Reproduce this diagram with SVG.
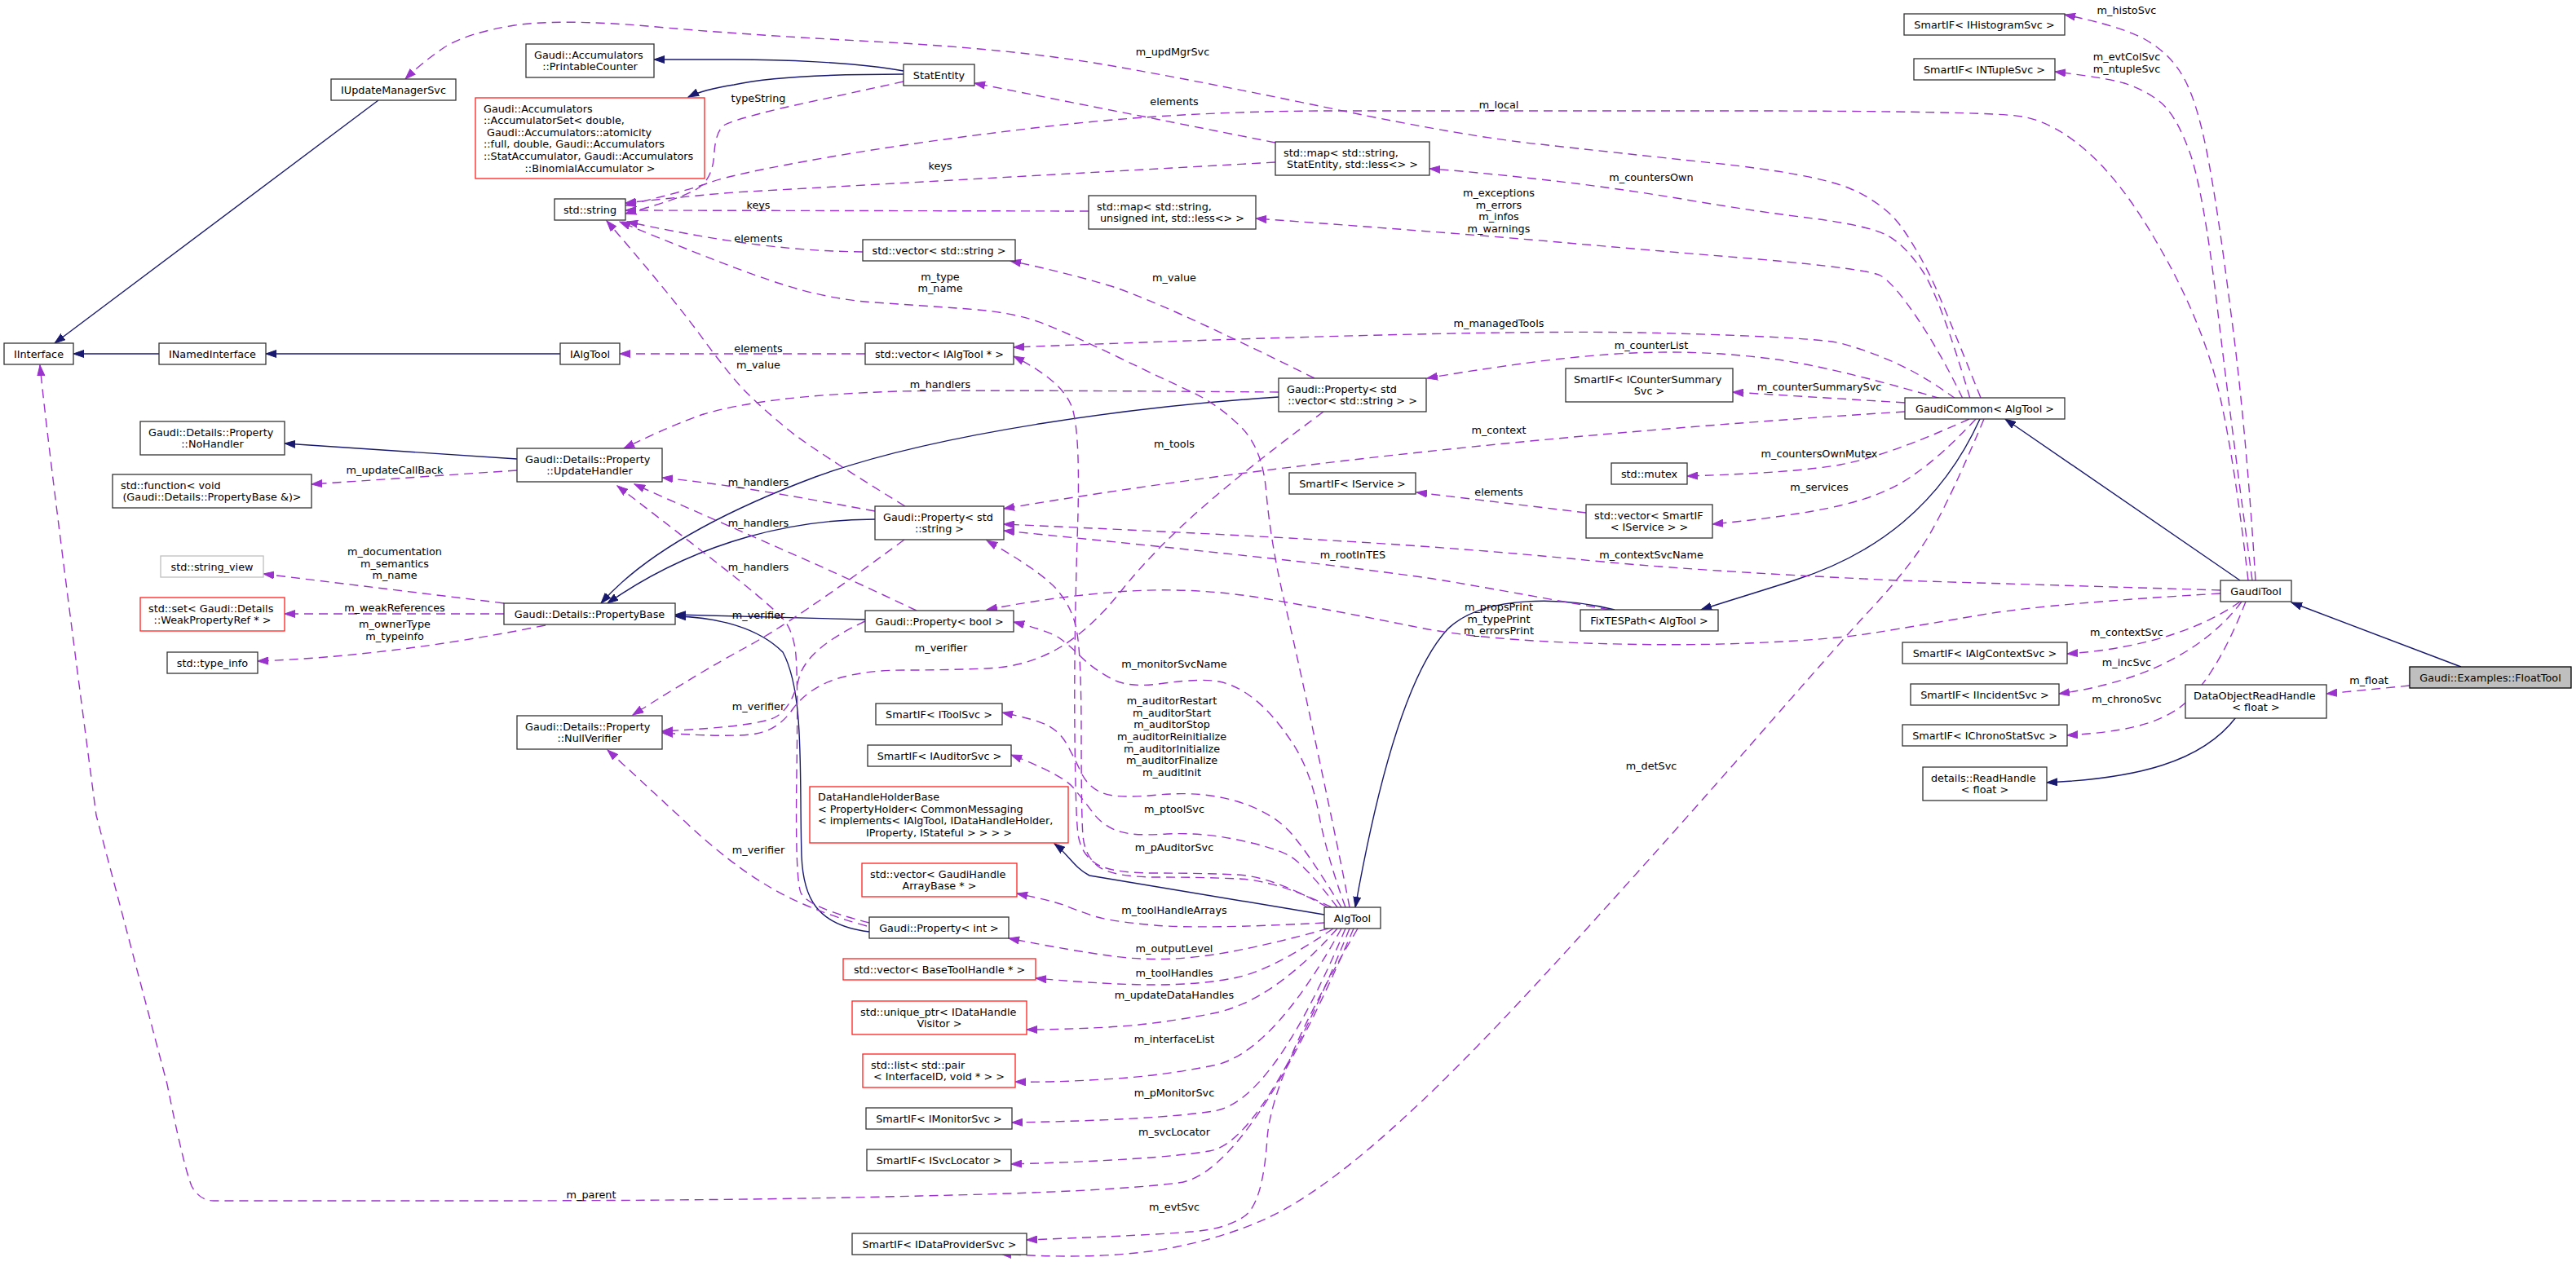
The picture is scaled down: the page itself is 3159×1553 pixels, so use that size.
<svg xmlns="http://www.w3.org/2000/svg" width="3159" height="1553" viewBox="0 0 3159 1553">
<style>
text{font-family:"DejaVu Sans","Liberation Sans",sans-serif;font-size:12.8px;fill:#000}
.n rect{fill:#fff;stroke:#333;stroke-width:1.3}
.r rect{stroke:#ff2020}
.g rect{stroke:#bfbfbf}
.f rect{fill:#bfbfbf;stroke:#000}
.c{text-anchor:middle}
.e{fill:none;stroke:#9a32cd;stroke-width:1.4;stroke-dasharray:11,7;marker-end:url(#pa)}
.i{fill:none;stroke:#191970;stroke-width:1.4;marker-end:url(#na)}
.l text{text-anchor:middle}
</style>
<defs>
<marker id="pa" markerUnits="userSpaceOnUse" viewBox="0 0 14 10" markerWidth="14" markerHeight="10" refX="13" refY="5" orient="auto"><path d="M0,0.5 L13,5 L0,9.5 z" fill="#9a32cd" stroke="#9a32cd" stroke-width="1"/></marker>
<marker id="na" markerUnits="userSpaceOnUse" viewBox="0 0 14 10" markerWidth="14" markerHeight="10" refX="13" refY="5" orient="auto"><path d="M0,0.5 L13,5 L0,9.5 z" fill="#191970" stroke="#191970" stroke-width="1"/></marker>
</defs>
<rect x="0" y="0" width="3159" height="1553" fill="#fff"/>
<g id="connectors">
<path class="i" d="M464,123 L67,421"/>
<path class="i" d="M195,434 L90,434"/>
<path class="i" d="M687,434 L326,434"/>
<path class="i" d="M1108,87 C1050,76 950,73 900,73 L802,73"/>
<path class="i" d="M1108,91 C1040,91 950,93 900,104 C875,108 858,112 844,119"/>
<path class="i" d="M634,563 L349,544"/>
<path class="i" d="M1568,487 C1400,498 1150,530 1000,585 C880,630 790,680 737,740"/>
<path class="i" d="M1073,637 C980,637 860,660 745,740"/>
<path class="i" d="M1061,760 L828,754"/>
<path class="i" d="M1066,1143 C1000,1135 985,1100 983,1050 C980,950 987,850 960,800 C930,770 880,757 828,756"/>
<path class="i" d="M1624,1122 L1336,1074 C1318,1065 1310,1048 1293,1035"/>
<path class="i" d="M1980,748 C1920,733 1820,728 1775,772 C1740,810 1700,900 1662,1113"/>
<path class="i" d="M2428,514 C2380,620 2300,680 2200,712 C2150,728 2110,740 2086,748"/>
<path class="i" d="M2747,712 L2459,514"/>
<path class="i" d="M3018,818 L2810,739"/>
<path class="i" d="M2742,880 C2700,935 2620,955 2510,960"/>

<path class="e" d="M634,577 L382,594"/>
<path class="e" d="M618,740 L323,704"/>
<path class="e" d="M618,753 L349,753"/>
<path class="e" d="M669,767 Q480,805 316,811"/>

<path class="e" d="M2429,488 Q2394,400 2376,358 Q2358,317 2335,283 Q2313,250 2268,231 Q2224,213 2101,200 Q1979,187 1889,177 Q1800,168 1637,134 Q1474,100 1359,80 Q1244,60 1072,51 Q900,42 794,32 Q689,23 631,31 Q574,40 545,58 Q517,77 497,97"/>
<path class="e" d="M2416,489 Q2380,367 2358,333 Q2336,300 2313,288 Q2291,277 2224,268 Q2157,260 2068,245 Q1979,230 1889,220 Q1800,210 1753,207"/>
<path class="e" d="M2407,489 Q2380,433 2351,390 Q2322,347 2306,338 Q2291,330 2157,318 Q2023,307 1911,297 Q1800,287 1540,268"/>
<path class="e" d="M2398,489 Q2358,460 2324,445 Q2291,430 2257,421 Q2224,413 2012,408 Q1800,404 1243,426"/>
<path class="e" d="M2380,489 Q2246,450 2179,441 Q2112,432 2045,432 Q1979,432 1889,443 Q1800,455 1750,464"/>
<path class="e" d="M2336,494 L2125,481"/>
<path class="e" d="M2336,505 Q1700,545 1231,624"/>
<path class="e" d="M2415,514 Q2313,560 2257,570 Q2202,580 2069,584"/>
<path class="e" d="M2423,514 Q2380,560 2346,583 Q2313,607 2257,620 Q2202,633 2100,643"/>
<path class="e" d="M1945,629 L1737,604"/>
<path class="e" d="M2433,514 Q2380,640 2353,676 Q2327,713 2286,756 Q2246,800 2150,910 Q2054,1020 1927,1160 Q1800,1300 1723,1370 Q1646,1441 1588,1476 Q1531,1511 1445,1529 Q1359,1547 1227,1538"/>
<path class="e" d="M2723,724 L2327,712 Q2068,700 1934,686 Q1800,673 1650,664 Q1500,655 1231,643"/>
<path class="e" d="M2723,728 Q2519,740 2437,753 Q2355,767 2300,776 Q2246,785 2143,789 Q2041,793 1920,788 Q1800,783 1726,767 Q1652,752 1562,736 Q1473,720 1387,725 Q1302,730 1210,748"/>
<path class="e" d="M1974,748 Q1912,737 1856,727 Q1800,717 1770,712 Q1741,707 1620,692 Q1500,678 1231,651"/>
<path class="e" d="M2766,712 Q2754,520 2736,385 Q2719,250 2706,185 Q2693,120 2676,92 Q2660,65 2630,48 Q2600,32 2532,18"/>
<path class="e" d="M2762,712 Q2736,520 2719,376 Q2702,233 2685,186 Q2668,140 2649,125 Q2630,110 2605,102 Q2580,95 2520,88"/>
<path class="e" d="M2757,712 Q2735,520 2712,447 Q2690,375 2647,301 Q2605,227 2562,188 Q2520,150 2480,143 Q2440,136 2120,136 Q1800,136 1620,136 Q1440,137 1285,155 Q1130,173 1015,193 Q900,213 870,224 Q840,235 767,252"/>
<path class="e" d="M2747,738 C2710,765 2640,795 2535,802"/>
<path class="e" d="M2749,738 C2710,790 2640,835 2525,851"/>
<path class="e" d="M2754,738 C2730,800 2700,850 2670,870 C2640,890 2600,898 2535,902"/>
<path class="e" d="M2955,841 L2853,851"/>
<path class="e" d="M1564,175 L1195,102"/>
<path class="e" d="M1564,199 L900,236 Q850,240 767,249"/>
<path class="e" d="M1335,259 L767,258"/>
<path class="e" d="M1108,100 L957,133 Q900,147 889,153 Q878,160 876,186 Q875,213 862,226 Q850,240 767,262"/>
<path class="e" d="M1058,309 C980,308 900,300 769,272"/>
<path class="e" d="M1655,1113 Q1643,1050 1616,923 Q1589,796 1573,729 Q1558,662 1553,606 Q1549,551 1522,524 Q1495,497 1462,481 Q1429,466 1373,439 Q1317,412 1280,397 Q1244,383 1187,379 Q1130,375 1072,371 Q1015,367 957,348 Q900,330 760,272"/>
<path class="e" d="M1110,621 Q994,550 964,525 Q934,500 917,483 Q900,467 863,417 Q827,367 744,271"/>
<path class="e" d="M1612,464 Q1417,367 1359,350 Q1302,333 1239,320"/>
<path class="e" d="M1061,434 L760,434"/>
<path class="e" d="M1628,1113 Q1560,1075 1517,1073 Q1474,1071 1416,1071 Q1359,1071 1342,1058 Q1325,1046 1322,1023 Q1319,1000 1318,898 Q1317,796 1321,662 Q1326,529 1314,498 Q1302,467 1243,437"/>
<path class="e" d="M1568,481 Q1187,478 1101,480 Q1015,483 957,490 Q900,497 863,508 Q827,520 765,550"/>
<path class="e" d="M1073,627 C980,610 900,595 812,586"/>
<path class="e" d="M1124,749 C1000,690 880,640 778,594"/>
<path class="e" d="M1066,1132 Q990,1113 982,1095 Q975,1078 977,948 Q979,818 975,795 Q971,772 961,760 Q952,749 904,710 Q856,672 757,596"/>
<path class="e" d="M1109,662 Q971,764 913,795 Q856,826 776,877"/>
<path class="e" d="M1623,505 Q1531,573 1474,623 Q1417,673 1378,721 Q1340,770 1300,794 Q1260,818 1210,820 Q1160,822 1110,822 Q1060,822 1025,833 Q990,845 972,870 Q955,895 927,900 Q900,905 812,899"/>
<path class="e" d="M1061,762 Q990,795 980,831 Q971,868 952,879 Q933,891 812,897"/>
<path class="e" d="M1063,1136 Q990,1116 942,1087 Q894,1059 837,1005 Q780,952 745,920"/>
<path class="e" d="M1633,1113 Q1565,1080 1519,1078 Q1474,1076 1419,1076 Q1365,1076 1347,1063 Q1330,1050 1328,1025 Q1326,1000 1326,900 Q1326,800 1320,772 Q1315,745 1295,722 Q1275,700 1210,663"/>
<path class="e" d="M1640,1113 Q1600,1060 1580,1049 Q1560,1039 1517,1030 Q1474,1021 1431,1023 Q1388,1026 1370,1019 Q1353,1013 1341,998 Q1330,983 1316,966 Q1302,950 1240,926"/>
<path class="e" d="M1645,1113 Q1607,1050 1584,1023 Q1562,997 1517,983 Q1473,970 1421,975 Q1370,980 1353,973 Q1336,967 1327,950 Q1319,933 1310,916 Q1302,900 1287,891 Q1273,883 1229,874"/>
<path class="e" d="M1650,1113 Q1627,1050 1617,997 Q1607,944 1584,910 Q1562,877 1540,859 Q1518,841 1495,836 Q1473,832 1428,838 Q1384,845 1362,832 Q1340,820 1326,806 Q1313,793 1301,784 Q1290,775 1243,763"/>
<path class="e" d="M1624,1132 Q1474,1140 1416,1135 Q1359,1130 1339,1123 Q1319,1116 1304,1110 Q1290,1105 1247,1096"/>
<path class="e" d="M1629,1139 Q1531,1166 1474,1173 Q1417,1180 1365,1173 Q1313,1166 1237,1151"/>
<path class="e" d="M1635,1139 Q1560,1190 1517,1199 Q1474,1208 1416,1208 Q1359,1208 1270,1200"/>
<path class="e" d="M1640,1139 Q1560,1229 1488,1243 Q1417,1257 1359,1260 Q1302,1263 1259,1263"/>
<path class="e" d="M1645,1139 Q1560,1293 1488,1307 Q1417,1321 1353,1324 Q1290,1328 1245,1327"/>
<path class="e" d="M1650,1139 Q1560,1353 1488,1363 Q1417,1374 1241,1377"/>
<path class="e" d="M1655,1139 Q1549,1402 1483,1412 Q1417,1423 1240,1428"/>
<path class="e" d="M1660,1139 Q1531,1441 1445,1451 Q1359,1462 1129,1467 Q900,1473 576,1473 L262,1473 Q245,1473 235,1455 Q225,1430 205,1330 L118,1000 Q60,560 49,448"/>
<path class="e" d="M1665,1139 Q1560,1317 1554,1396 Q1549,1476 1526,1492 Q1503,1508 1460,1511 Q1417,1515 1259,1521"/>

<g class="l" id="edge-labels">
<text x="1438" y="68">m_updMgrSvc</text>
<text x="930" y="125">typeString</text>
<text x="1440" y="129">elements</text>
<text x="1838" y="133">m_local</text>
<text x="1153" y="208">keys</text>
<text x="2025" y="222">m_countersOwn</text>
<text x="1838" y="241">m_exceptions</text>
<text x="1838" y="256">m_errors</text>
<text x="1838" y="270">m_infos</text>
<text x="1838" y="285">m_warnings</text>
<text x="930" y="256">keys</text>
<text x="930" y="297">elements</text>
<text x="1153" y="344">m_type</text>
<text x="1153" y="358">m_name</text>
<text x="1440" y="345">m_value</text>
<text x="1838" y="401">m_managedTools</text>
<text x="2025" y="428">m_counterList</text>
<text x="930" y="432">elements</text>
<text x="930" y="452">m_value</text>
<text x="1153" y="476">m_handlers</text>
<text x="2231" y="479">m_counterSummarySvc</text>
<text x="1838" y="532">m_context</text>
<text x="1440" y="549">m_tools</text>
<text x="2231" y="561">m_countersOwnMutex</text>
<text x="484" y="581">m_updateCallBack</text>
<text x="930" y="596">m_handlers</text>
<text x="2231" y="602">m_services</text>
<text x="1838" y="608">elements</text>
<text x="930" y="646">m_handlers</text>
<text x="484" y="681">m_documentation</text>
<text x="484" y="696">m_semantics</text>
<text x="484" y="710">m_name</text>
<text x="2025" y="685">m_contextSvcName</text>
<text x="1659" y="685">m_rootInTES</text>
<text x="930" y="700">m_handlers</text>
<text x="1838" y="749">m_propsPrint</text>
<text x="1838" y="764">m_typePrint</text>
<text x="1838" y="778">m_errorsPrint</text>
<text x="484" y="750">m_weakReferences</text>
<text x="930" y="759">m_verifier</text>
<text x="484" y="770">m_ownerType</text>
<text x="484" y="785">m_typeinfo</text>
<text x="2608" y="780">m_contextSvc</text>
<text x="1154" y="799">m_verifier</text>
<text x="2608" y="817">m_incSvc</text>
<text x="1440" y="819">m_monitorSvcName</text>
<text x="2905" y="839">m_float</text>
<text x="2608" y="862">m_chronoSvc</text>
<text x="1437" y="864">m_auditorRestart</text>
<text x="1437" y="879">m_auditorStart</text>
<text x="1437" y="893">m_auditorStop</text>
<text x="1437" y="908">m_auditorReinitialize</text>
<text x="1437" y="923">m_auditorInitialize</text>
<text x="1437" y="937">m_auditorFinalize</text>
<text x="1437" y="952">m_auditInit</text>
<text x="930" y="871">m_verifier</text>
<text x="2025" y="944">m_detSvc</text>
<text x="1440" y="997">m_ptoolSvc</text>
<text x="1440" y="1044">m_pAuditorSvc</text>
<text x="930" y="1047">m_verifier</text>
<text x="1440" y="1121">m_toolHandleArrays</text>
<text x="1440" y="1168">m_outputLevel</text>
<text x="1440" y="1198">m_toolHandles</text>
<text x="1440" y="1225">m_updateDataHandles</text>
<text x="1440" y="1279">m_interfaceList</text>
<text x="1440" y="1345">m_pMonitorSvc</text>
<text x="1440" y="1393">m_svcLocator</text>
<text x="725" y="1470">m_parent</text>
<text x="1440" y="1485">m_evtSvc</text>
<text x="2608" y="17">m_histoSvc</text>
<text x="2608" y="74">m_evtColSvc</text>
<text x="2608" y="89">m_ntupleSvc</text>
</g>
</g>

<g id="IInterface" class="n"><rect x="5" y="421" width="85" height="26"/><text class="c" x="47.5" y="438.6">IInterface</text></g>
<g id="INamedInterface" class="n"><rect x="195" y="421" width="131" height="26"/><text class="c" x="260.5" y="438.6">INamedInterface</text></g>
<g id="IAlgTool" class="n"><rect x="687" y="421" width="73" height="26"/><text class="c" x="723.5" y="438.6">IAlgTool</text></g>
<g id="IUpdateManagerSvc" class="n"><rect x="406" y="97" width="153" height="26"/><text class="c" x="482.5" y="114.6">IUpdateManagerSvc</text></g>
<g id="PrintableCounter" class="n"><rect x="645" y="54" width="157" height="41"/><text x="655" y="71.8">Gaudi::Accumulators</text><text class="c" x="723.5" y="86.4">::PrintableCounter</text></g>
<g id="AccumulatorSet" class="n r"><rect x="583" y="120" width="281" height="99"/><text x="593" y="137.6">Gaudi::Accumulators</text><text x="593" y="152.2">::AccumulatorSet&lt; double,</text><text x="597" y="166.8">Gaudi::Accumulators::atomicity</text><text x="593" y="181.4">::full, double, Gaudi::Accumulators</text><text x="593" y="196">::StatAccumulator, Gaudi::Accumulators</text><text class="c" x="723.5" y="210.6">::BinomialAccumulator &gt;</text></g>
<g id="std_string" class="n"><rect x="680" y="244" width="87" height="26"/><text class="c" x="723.5" y="261.6">std::string</text></g>
<g id="StatEntity" class="n"><rect x="1108" y="79" width="87" height="26"/><text class="c" x="1151.5" y="96.6">StatEntity</text></g>
<g id="map_StatEntity" class="n"><rect x="1564" y="174" width="189" height="41"/><text x="1574" y="191.8">std::map&lt; std::string,</text><text class="c" x="1658.5" y="206.4">StatEntity, std::less&lt;&gt; &gt;</text></g>
<g id="map_unsigned" class="n"><rect x="1335" y="240" width="205" height="41"/><text x="1345" y="257.8">std::map&lt; std::string,</text><text class="c" x="1437.5" y="272.4">unsigned int, std::less&lt;&gt; &gt;</text></g>
<g id="vector_string" class="n"><rect x="1058" y="294" width="187" height="26"/><text class="c" x="1151.5" y="311.6">std::vector&lt; std::string &gt;</text></g>
<g id="vector_IAlgTool" class="n"><rect x="1061" y="421" width="182" height="26"/><text class="c" x="1152" y="438.6">std::vector&lt; IAlgTool * &gt;</text></g>
<g id="Property_vector" class="n"><rect x="1568" y="464" width="181" height="41"/><text x="1578" y="481.8">Gaudi::Property&lt; std</text><text class="c" x="1658.5" y="496.4">::vector&lt; std::string &gt; &gt;</text></g>
<g id="NoHandler" class="n"><rect x="172" y="517" width="177" height="41"/><text x="182" y="534.8">Gaudi::Details::Property</text><text class="c" x="260.5" y="549.4">::NoHandler</text></g>
<g id="std_function" class="n"><rect x="138" y="582" width="244" height="41"/><text x="148" y="599.8">std::function&lt; void</text><text class="c" x="260" y="614.4">(Gaudi::Details::PropertyBase &amp;)&gt;</text></g>
<g id="UpdateHandler" class="n"><rect x="634" y="550" width="178" height="41"/><text x="644" y="567.8">Gaudi::Details::Property</text><text class="c" x="723" y="582.4">::UpdateHandler</text></g>
<g id="string_view" class="n g"><rect x="197" y="682" width="126" height="26"/><text class="c" x="260" y="699.6">std::string_view</text></g>
<g id="std_set" class="n r"><rect x="172" y="733" width="177" height="41"/><text x="182" y="750.8">std::set&lt; Gaudi::Details</text><text class="c" x="260.5" y="765.4">::WeakPropertyRef * &gt;</text></g>
<g id="type_info" class="n"><rect x="205" y="800" width="111" height="26"/><text class="c" x="260.5" y="817.6">std::type_info</text></g>
<g id="PropertyBase" class="n"><rect x="618" y="740" width="210" height="26"/><text class="c" x="723" y="757.6">Gaudi::Details::PropertyBase</text></g>
<g id="NullVerifier" class="n"><rect x="634" y="878" width="178" height="41"/><text x="644" y="895.8">Gaudi::Details::Property</text><text class="c" x="723" y="910.4">::NullVerifier</text></g>
<g id="Property_string" class="n"><rect x="1073" y="621" width="158" height="41"/><text x="1083" y="638.8">Gaudi::Property&lt; std</text><text class="c" x="1152" y="653.4">::string &gt;</text></g>
<g id="SmartIF_IService" class="n"><rect x="1581" y="580" width="155" height="26"/><text class="c" x="1658.5" y="597.6">SmartIF&lt; IService &gt;</text></g>
<g id="Property_bool" class="n"><rect x="1061" y="749" width="182" height="26"/><text class="c" x="1152" y="766.6">Gaudi::Property&lt; bool &gt;</text></g>
<g id="SmartIF_IToolSvc" class="n"><rect x="1074" y="863" width="155" height="26"/><text class="c" x="1151.5" y="880.6">SmartIF&lt; IToolSvc &gt;</text></g>
<g id="SmartIF_IAuditorSvc" class="n"><rect x="1064" y="914" width="176" height="26"/><text class="c" x="1152" y="931.6">SmartIF&lt; IAuditorSvc &gt;</text></g>
<g id="DataHandleHolderBase" class="n r"><rect x="993" y="965" width="317" height="69"/><text x="1003" y="982.2">DataHandleHolderBase</text><text x="1003" y="996.8">&lt; PropertyHolder&lt; CommonMessaging</text><text x="1003" y="1011.4">&lt; implements&lt; IAlgTool, IDataHandleHolder,</text><text class="c" x="1151.5" y="1026">IProperty, IStateful &gt; &gt; &gt; &gt;</text></g>
<g id="vector_GaudiHandleArrayBase" class="n r"><rect x="1057" y="1059" width="190" height="41"/><text x="1067" y="1076.8">std::vector&lt; GaudiHandle</text><text class="c" x="1152" y="1091.4">ArrayBase * &gt;</text></g>
<g id="Property_int" class="n"><rect x="1066" y="1125" width="171" height="26"/><text class="c" x="1151.5" y="1142.6">Gaudi::Property&lt; int &gt;</text></g>
<g id="vector_BaseToolHandle" class="n r"><rect x="1034" y="1176" width="236" height="26"/><text class="c" x="1152" y="1193.6">std::vector&lt; BaseToolHandle * &gt;</text></g>
<g id="unique_ptr" class="n r"><rect x="1045" y="1228" width="214" height="41"/><text x="1055" y="1245.8">std::unique_ptr&lt; IDataHandle</text><text class="c" x="1152" y="1260.4">Visitor &gt;</text></g>
<g id="std_list" class="n r"><rect x="1058" y="1293" width="187" height="41"/><text x="1068" y="1310.8">std::list&lt; std::pair</text><text class="c" x="1151.5" y="1325.4">&lt; InterfaceID, void * &gt; &gt;</text></g>
<g id="SmartIF_IMonitorSvc" class="n"><rect x="1062" y="1359" width="179" height="26"/><text class="c" x="1151.5" y="1376.6">SmartIF&lt; IMonitorSvc &gt;</text></g>
<g id="SmartIF_ISvcLocator" class="n"><rect x="1063" y="1410" width="177" height="26"/><text class="c" x="1151.5" y="1427.6">SmartIF&lt; ISvcLocator &gt;</text></g>
<g id="SmartIF_IDataProviderSvc" class="n"><rect x="1045" y="1513" width="214" height="26"/><text class="c" x="1152" y="1530.6">SmartIF&lt; IDataProviderSvc &gt;</text></g>
<g id="AlgTool" class="n"><rect x="1624" y="1113" width="69" height="26"/><text class="c" x="1658.5" y="1130.6">AlgTool</text></g>
<g id="FixTESPath" class="n"><rect x="1938" y="748" width="169" height="26"/><text class="c" x="2022.5" y="765.6">FixTESPath&lt; AlgTool &gt;</text></g>
<g id="std_mutex" class="n"><rect x="1976" y="568" width="93" height="26"/><text class="c" x="2022.5" y="585.6">std::mutex</text></g>
<g id="vector_SmartIF_IService" class="n"><rect x="1945" y="619" width="155" height="41"/><text x="1955" y="636.8">std::vector&lt; SmartIF</text><text class="c" x="2022.5" y="651.4">&lt; IService &gt; &gt;</text></g>
<g id="SmartIF_ICounterSummarySvc" class="n"><rect x="1920" y="452" width="205" height="41"/><text x="1930" y="469.8">SmartIF&lt; ICounterSummary</text><text class="c" x="2022.5" y="484.4">Svc &gt;</text></g>
<g id="GaudiCommon" class="n"><rect x="2336" y="488" width="196" height="26"/><text class="c" x="2434" y="505.6">GaudiCommon&lt; AlgTool &gt;</text></g>
<g id="SmartIF_IHistogramSvc" class="n"><rect x="2335" y="17" width="197" height="26"/><text class="c" x="2433.5" y="34.6">SmartIF&lt; IHistogramSvc &gt;</text></g>
<g id="SmartIF_INTupleSvc" class="n"><rect x="2347" y="72" width="173" height="26"/><text class="c" x="2433.5" y="89.6">SmartIF&lt; INTupleSvc &gt;</text></g>
<g id="GaudiTool" class="n"><rect x="2723" y="712" width="87" height="26"/><text class="c" x="2766.5" y="729.6">GaudiTool</text></g>
<g id="SmartIF_IAlgContextSvc" class="n"><rect x="2333" y="788" width="202" height="26"/><text class="c" x="2434" y="805.6">SmartIF&lt; IAlgContextSvc &gt;</text></g>
<g id="SmartIF_IIncidentSvc" class="n"><rect x="2343" y="839" width="182" height="26"/><text class="c" x="2434" y="856.6">SmartIF&lt; IIncidentSvc &gt;</text></g>
<g id="SmartIF_IChronoStatSvc" class="n"><rect x="2333" y="889" width="202" height="26"/><text class="c" x="2434" y="906.6">SmartIF&lt; IChronoStatSvc &gt;</text></g>
<g id="ReadHandle" class="n"><rect x="2358" y="941" width="152" height="41"/><text x="2368" y="958.8">details::ReadHandle</text><text class="c" x="2434" y="973.4">&lt; float &gt;</text></g>
<g id="DataObjectReadHandle" class="n"><rect x="2680" y="840" width="173" height="41"/><text x="2690" y="857.8">DataObjectReadHandle</text><text class="c" x="2766.5" y="872.4">&lt; float &gt;</text></g>
<g id="FloatTool" class="n f"><rect x="2955" y="818" width="198" height="26"/><text class="c" x="3054" y="835.6">Gaudi::Examples::FloatTool</text></g>
</svg>
